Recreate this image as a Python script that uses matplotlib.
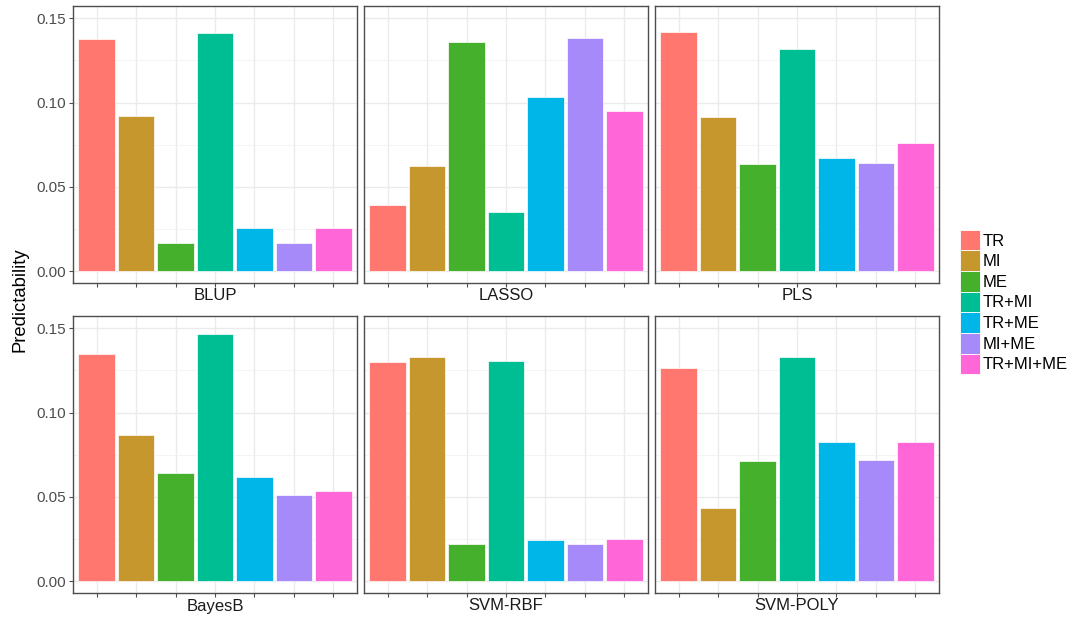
import matplotlib
matplotlib.use("Agg")
import matplotlib.pyplot as plt
from matplotlib.patches import Patch
from matplotlib.ticker import MultipleLocator

plt.rcParams["font.family"] = ["Liberation Sans", "DejaVu Sans"]

# 性状组合 × 模型的预测能力
groups = ["TR", "MI", "ME", "TR+MI", "TR+ME", "MI+ME", "TR+MI+ME"]
colors = ["#FF776F", "#C5972C", "#44B02B", "#00BE93", "#00B5E8", "#A78AFA", "#FF66D8"]
models = ["BLUP", "LASSO", "PLS", "BayesB", "SVM-RBF", "SVM-POLY"]

blup = [0.1375, 0.0920, 0.0165, 0.1412, 0.0258, 0.0166, 0.0258]
lasso = [0.0390, 0.0625, 0.1360, 0.0352, 0.1030, 0.1385, 0.0950]
pls = [0.1420, 0.0916, 0.0635, 0.1316, 0.0670, 0.0640, 0.0758]
bayesb = [0.1346, 0.0868, 0.0644, 0.1468, 0.0619, 0.0508, 0.0532]
svm_rbf = [0.1300, 0.1331, 0.0218, 0.1308, 0.0242, 0.0222, 0.0248]
svm_poly = [0.1262, 0.0433, 0.0714, 0.1331, 0.0825, 0.0718, 0.0827]
values = [blup, lasso, pls, bayesb, svm_rbf, svm_poly]

W, H = 1072, 618
fig = plt.figure(figsize=(W / 100, H / 100), dpi=100)

col_left = [73, 364, 655]
row_top = [6, 316]
pw, ph = 284, 277
border = "#4D4D4D"

for i, (name, vals) in enumerate(zip(models, values)):
    r, c = divmod(i, 3)
    ax = fig.add_axes([col_left[c] / W, 1 - (row_top[r] + ph) / H, pw / W, ph / H])
    x = list(range(1, len(groups) + 1))
    ax.bar(x, vals, width=0.93, color=colors, edgecolor="white", linewidth=0.5, zorder=3)
    ax.set_xlim(0.4, 7.6)
    ax.set_ylim(-0.0071, 0.1573)
    ax.set_xticks(x)
    ax.set_xticklabels([])
    ax.yaxis.set_major_locator(MultipleLocator(0.05))
    ax.yaxis.set_minor_locator(MultipleLocator(0.025))
    ax.grid(True, which="major", color="#EBEBEB", linewidth=1.0, zorder=0)
    ax.grid(True, which="minor", axis="y", color="#F2F2F2", linewidth=0.6, zorder=0)
    ax.set_axisbelow(True)
    for sp in ax.spines.values():
        sp.set_color(border)
        sp.set_linewidth(1.0)
    ax.tick_params(axis="x", length=3, width=0.8, color=border)
    ax.tick_params(axis="y", which="minor", length=0)
    if c == 0:
        ax.set_yticks([0.0, 0.05, 0.10, 0.15])
        ax.set_yticklabels(["0.00", "0.05", "0.10", "0.15"])
        ax.tick_params(axis="y", which="major", length=3, width=0.8, color=border,
                       labelsize=11, labelcolor="#4D4D4D", pad=2)
    else:
        ax.tick_params(axis="y", which="major", length=0, labelleft=False)
    # 面板标签放在下方
    ax.annotate(name, xy=(0.5, 0), xycoords="axes fraction", xytext=(0, -13),
                textcoords="offset pixels", ha="center", va="center",
                fontsize=12, color="#1A1A1A")

fig.text(20 / W, 1 - 300 / H, "Predictability", rotation=90, ha="center",
         va="center", fontsize=13.3, color="black")

handles = [Patch(facecolor=col, edgecolor="white", linewidth=0.6) for col in colors]
fig.legend(handles, groups, loc="center left", bbox_to_anchor=(960 / W, 1 - 302 / H),
           frameon=False, fontsize=12, handlelength=1.2, handleheight=1.53,
           labelspacing=0.0, handletextpad=0.15, borderaxespad=0, borderpad=0)

fig.savefig("out.png", dpi=100)
